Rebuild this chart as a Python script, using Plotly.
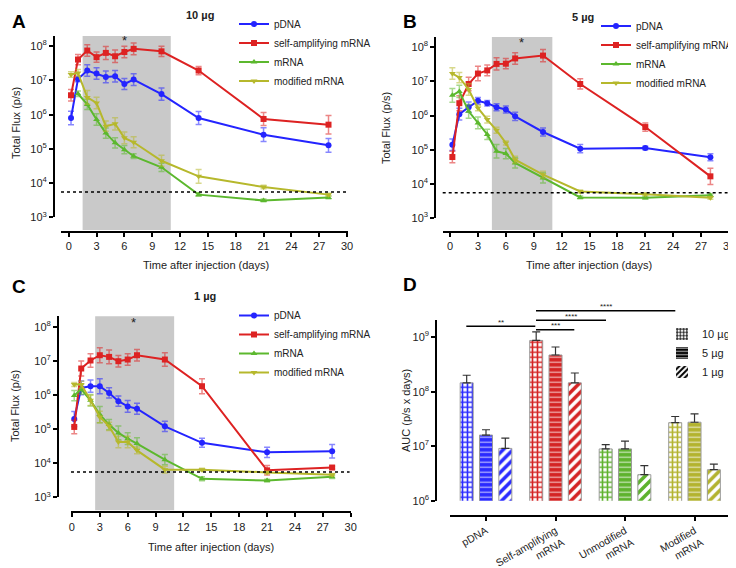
import numpy as np
import plotly.graph_objects as go

W, H = 736, 568
FONT = "Liberation Sans, Arial, sans-serif"

# ---------------- data ----------------
days = [0.25, 1, 2, 3, 4, 5, 6, 7, 10, 14, 21, 28]
series_names = ["pDNA", "self-amplifying mRNA", "mRNA", "modified mRNA"]
x_ticks = [0, 3, 6, 9, 12, 15, 18, 21, 24, 27, 30]
y_ticks = [1e3, 1e4, 1e5, 1e6, 1e7, 1e8]
y_ticktext = ["10<sup>3</sup>", "10<sup>4</sup>", "10<sup>5</sup>", "10<sup>6</sup>",
              "10<sup>7</sup>", "10<sup>8</sup>"]
detection_limit = 5.5e3

# Panel A (10 µg) values and SEM (in decades)
a_pdna = [8.0e5, 1.1e7, 1.95e7, 1.6e7, 1.27e7, 1.33e7, 7.9e6, 1.06e7, 4.0e6, 8.0e5, 2.6e5, 1.27e5]
a_pdna_err = [0.2, 0.08, 0.17, 0.17, 0.17, 0.17, 0.16, 0.17, 0.18, 0.19, 0.2, 0.2]
a_sa = [3.7e6, 4.1e7, 7.5e7, 4.8e7, 6.4e7, 5.1e7, 6.8e7, 8.4e7, 7.1e7, 1.95e7, 7.5e5, 5.1e5]
a_sa_err = [0.17, 0.15, 0.17, 0.15, 0.19, 0.18, 0.17, 0.17, 0.15, 0.12, 0.19, 0.27]
a_mrna = [None, 4.1e6, 2.0e6, 7.2e5, 2.9e5, 1.5e5, 9.5e4, 6.1e4, 2.9e4, 4.6e3, 3.1e3, 3.8e3]
a_mrna_err = [0, 0.08, 0.15, 0.17, 0.15, 0.15, 0.12, 0.07, 0.12, 0.05, 0.04, 0.04]
a_mod = [1.49e7, 1.66e7, 3.2e6, 2.2e6, 4.6e5, 5.4e5, 2.1e5, 1.56e5, 4.5e4, 1.58e4, 7.7e3, 4.6e3]
a_mod_err = [0.08, 0.1, 0.2, 0.17, 0.15, 0.18, 0.17, 0.16, 0.16, 0.2, 0.05, 0.04]

# Panel B (5 µg)
b_pdna = [1.4e5, 1.1e6, 1.75e6, 2.7e6, 2.3e6, 1.75e6, 1.5e6, 9.5e5, 3.3e5, 1.07e5, 1.12e5, 6.0e4]
b_pdna_err = [0.17, 0.17, 0.15, 0.1, 0.08, 0.1, 0.1, 0.12, 0.12, 0.12, 0.05, 0.1]
b_sa = [6.1e4, 2.3e6, 8.4e6, 1.7e7, 2.1e7, 3.25e7, 3.3e7, 4.7e7, 5.7e7, 8.4e6, 4.6e5, 1.66e4]
b_sa_err = [0.17, 0.22, 0.2, 0.21, 0.16, 0.18, 0.15, 0.17, 0.18, 0.15, 0.12, 0.24]
b_mrna = [3.9e6, 5.1e6, 1.33e6, 6.1e5, 2.8e5, 9.0e4, 7.7e4, 4.1e4, 1.49e4, 4.0e3, 3.9e3, 4.6e3]
b_mrna_err = [0.2, 0.18, 0.2, 0.17, 0.15, 0.2, 0.15, 0.15, 0.15, 0.04, 0.04, 0.04]
b_mod = [1.7e7, 1.3e7, 5.8e6, 1.67e6, 7.6e5, 3.7e5, 1.57e5, 5.1e4, 1.86e4, 6.0e3, 5.0e3, 3.9e3]
b_mod_err = [0.17, 0.15, 0.17, 0.08, 0.1, 0.09, 0.06, 0.1, 0.1, 0.04, 0.04, 0.04]

# Panel C (1 µg)
c_pdna = [2.0e5, 1.64e6, 1.84e6, 1.84e6, 1.17e6, 6.7e5, 4.7e5, 4.0e5, 1.22e5, 4.0e4, 2.1e4, 2.25e4]
c_pdna_err = [0.22, 0.2, 0.18, 0.22, 0.15, 0.15, 0.17, 0.16, 0.15, 0.13, 0.15, 0.2]
c_sa = [1.17e5, 6.1e6, 1.05e7, 1.5e7, 1.34e7, 1.0e7, 1.12e7, 1.5e7, 1.12e7, 1.84e6, 6.2e3, 7.5e3]
c_sa_err = [0.2, 0.22, 0.2, 0.22, 0.2, 0.17, 0.17, 0.17, 0.2, 0.22, 0.14, 0.04]
c_mrna = [9.8e5, 1.5e6, 7.1e5, 2.7e5, 1.37e5, 7.8e4, 5.3e4, 3.8e4, 1.28e4, 3.5e3, 3.1e3, 4.0e3]
c_mrna_err = [0.15, 0.15, 0.17, 0.24, 0.15, 0.2, 0.17, 0.17, 0.15, 0.06, 0.04, 0.05]
c_mod = [2.06e6, 2.06e6, 7.1e5, 2.3e5, 1.22e5, 4.2e4, 4.2e4, 2.4e4, 6.5e3, 6.5e3, 5.4e3, 4.6e3]
c_mod_err = [0.06, 0.1, 0.15, 0.17, 0.12, 0.17, 0.17, 0.1, 0.1, 0.04, 0.04, 0.04]

# Panel D (AUC)
auc_categories = ["pDNA", "Self-amplifying<br>mRNA", "Unmodified<br>mRNA", "Modified<br>mRNA"]
dose_labels = ["10 µg", "5 µg", "1 µg"]
auc_10 = [1.45e8, 8.7e8, 8.9e6, 2.7e7]
auc_10_err = [5.5e7, 3.8e8, 1.8e6, 8.0e6]
auc_5 = [1.6e7, 4.7e8, 8.9e6, 2.75e7]
auc_5_err = [4.0e6, 1.9e8, 3.5e6, 1.15e7]
auc_1 = [9.1e6, 1.45e8, 3.0e6, 3.7e6]
auc_1_err = [4.9e6, 7.5e7, 1.4e6, 1.0e6]
auc_ticks = [1e6, 1e7, 1e8, 1e9]
auc_ticktext = ["10<sup>6</sup>", "10<sup>7</sup>", "10<sup>8</sup>", "10<sup>9</sup>"]

# ---------------- style ----------------
colors = ["#2424ff", "#dd2222", "#5cb82e", "#b6b82c"]
err_colors = ["rgba(36,36,255,0.55)", "rgba(221,34,34,0.55)", "rgba(92,184,46,0.55)", "rgba(182,184,44,0.55)"]
symbols = ["circle", "square", "triangle-up", "triangle-down"]
bar_colors = ["#2a2aff", "#d42323", "#5db22c", "#b3b32e"]
TXT = "#222"


def px(x):
    return x / W


def py(y):
    return 1 - y / H


def label(text, x, y, size=11, angle=0, bold=False, color=TXT):
    return dict(text=("<b>%s</b>" % text) if bold else text, xref="paper", yref="paper",
                x=px(x), y=py(y), xanchor="center", yanchor="middle", showarrow=False,
                textangle=angle, font=dict(size=size, family=FONT, color=color))


fig = go.Figure()

panels = [
    dict(k="", data=[a_pdna, a_sa, a_mrna, a_mod], errs=[a_pdna_err, a_sa_err, a_mrna_err, a_mod_err],
         leg="legend", xd=(53, 340), xr=(-0.83, 30.1), yd=(209.3, 28), yr=(3, 8.30), yx=46, xy=224,
         shade=(1.5, 11), star=6.0, stary=33, title="10 µg", tx=192, ty=7.5,
         letter="A", lx=11, ly=14, legx=226, legy=1.5, xt=(198, 257), yt=(8, 115)),
    dict(k="2", data=[b_pdna, b_sa, b_mrna, b_mod], errs=[b_pdna_err, b_sa_err, b_mrna_err, b_mod_err],
         leg="legend2", xd=(434.7, 721), xr=(-0.79, 30.0), yd=(210, 29), yr=(3, 8.30), yx=427.3, xy=224,
         shade=(4.5, 11), star=7.7, stary=34, title="5 µg", tx=575, ty=9,
         letter="B", lx=402, ly=14, legx=588, legy=3.5, xt=(581, 257), yt=(378, 120)),
    dict(k="3", data=[c_pdna, c_sa, c_mrna, c_mod], errs=[c_pdna_err, c_sa_err, c_mrna_err, c_mod_err],
         leg="legend3", xd=(63, 343), xr=(-0.1, 30.03), yd=(489.3, 308.3), yr=(3, 8.32), yx=50, xy=504.3,
         shade=(2.5, 11), star=6.6, stary=314.5, title="1 µg", tx=197, ty=288,
         letter="C", lx=11, ly=278, legx=226, legy=293, xt=(203, 539), yt=(7, 398)),
]

shapes = []
annotations = []
layout_axes = {}

for p in panels:
    k = p["k"]
    for i in range(4):
        vals = p["data"][i]
        errs = p["errs"][i]
        plus = [None if v is None else v * (10 ** e - 1) for v, e in zip(vals, errs)]
        minus = [None if v is None else v * (1 - 10 ** (-e)) for v, e in zip(vals, errs)]
        fig.add_trace(go.Scatter(
            x=days, y=vals, mode="lines+markers", name=series_names[i],
            line=dict(color=colors[i], width=2),
            marker=dict(symbol=symbols[i], size=6, color=colors[i]),
            error_y=dict(type="data", symmetric=False, array=plus, arrayminus=minus,
                         color=err_colors[i], thickness=1.5, width=3),
            xaxis="x" + k, yaxis="y" + k, legend=p["leg"], cliponaxis=False,
        ))
    xa = dict(domain=[px(p["xd"][0]), px(p["xd"][1])], range=list(p["xr"]), anchor="free",
              position=py(p["xy"]), showline=True, linewidth=2, linecolor="black",
              ticks="outside", ticklen=4, tickwidth=2, tickcolor="black",
              tickvals=x_ticks, tickfont=dict(size=11, color=TXT, family=FONT),
              showgrid=False, zeroline=False, automargin=False)
    ya = dict(domain=[py(p["yd"][0]), py(p["yd"][1])], type="log", range=list(p["yr"]),
              anchor="free", position=px(p["yx"]), showline=True, linewidth=2, linecolor="black",
              ticks="outside", ticklen=4, tickwidth=2, tickcolor="black",
              tickvals=y_ticks, ticktext=y_ticktext, tickfont=dict(size=11, color=TXT, family=FONT),
              showgrid=False, zeroline=False, automargin=False)
    layout_axes["xaxis" + k] = xa
    layout_axes["yaxis" + k] = ya
    shapes.append(dict(type="rect", xref="x" + k, yref="paper", x0=p["shade"][0], x1=p["shade"][1],
                       y0=py(p["xy"] - 2), y1=py(p["yd"][1]), fillcolor="#c9c9c9",
                       line=dict(width=0), layer="below"))
    r0, r1 = p["yr"]
    yl = (np.log10(detection_limit) - r0) / (r1 - r0)
    shapes.append(dict(type="line", xref="x" + k + " domain", yref="y" + k + " domain",
                       x0=0, x1=0.995, y0=yl, y1=yl, line=dict(color="black", width=1.5, dash="dot")))
    annotations.append(dict(text="*", xref="x" + k, yref="paper", x=p["star"], y=py(p["stary"]),
                            xanchor="center", yanchor="middle", showarrow=False,
                            font=dict(size=13, family=FONT, color=TXT)))
    annotations.append(label(p["title"], p["tx"], p["ty"], size=11, bold=True))
    annotations.append(label(p["letter"], p["lx"], p["ly"], size=19, bold=True, color="black"))
    annotations.append(label("Time after injection (days)", p["xt"][0], p["xt"][1]))
    annotations.append(label("Total Flux (p/s)", p["yt"][0], p["yt"][1], angle=-90))
    layout_axes[p["leg"]] = dict(x=px(p["legx"]), y=py(p["legy"]), xanchor="left", yanchor="top",
                                 bgcolor="rgba(0,0,0,0)", font=dict(size=10, family=FONT, color=TXT),
                                 itemwidth=30)

# ---------------- panel D ----------------
bar_w = 0.187
offsets = [-0.3715, -0.0935, 0.1845]
auc_vals = [auc_10, auc_5, auc_1]
auc_errs = [auc_10_err, auc_5_err, auc_1_err]
for d in range(3):
    for c in range(4):
        col = bar_colors[c]
        if d == 0:
            pat = dict(shape="+", fgcolor=col, bgcolor="white", size=5, solidity=0.55, fillmode="replace")
        elif d == 1:
            pat = dict(shape="-", fgcolor="rgba(255,255,255,0.65)", bgcolor=col, size=5, solidity=0.25,
                       fillmode="replace")
        else:
            pat = dict(shape="/", fgcolor="white", bgcolor=col, size=7, solidity=0.5, fillmode="replace")
        fig.add_trace(go.Bar(
            x=[auc_categories[c]], y=[auc_vals[d][c]], width=bar_w, offset=offsets[d],
            marker=dict(color=col, pattern=pat, line=dict(color="#9a9a9a", width=1)),
            error_y=dict(type="data", symmetric=False, array=[auc_errs[d][c]], arrayminus=[0],
                         color="#333", thickness=1.2, width=4),
            xaxis="x4", yaxis="y4", showlegend=False, legend="legend4",
        ))
leg_pats = [dict(shape="+", fgcolor="black", bgcolor="white", size=4, solidity=0.5, fillmode="replace"),
            dict(shape="-", fgcolor="white", bgcolor="black", size=4, solidity=0.25, fillmode="replace"),
            dict(shape="/", fgcolor="white", bgcolor="black", size=5, solidity=0.5, fillmode="replace")]
for d in range(3):
    fig.add_trace(go.Bar(x=[auc_categories[0]], y=[None], name=dose_labels[d],
                         marker=dict(color="black", pattern=leg_pats[d], line=dict(width=0)),
                         xaxis="x4", yaxis="y4", legend="legend4", showlegend=True))

layout_axes["xaxis4"] = dict(domain=[px(442), px(721)], type="category", range=[-0.518, 3.496],
                             anchor="free", position=py(507.7), showline=True, linewidth=2,
                             linecolor="black", ticks="outside", ticklen=4, tickwidth=2, tickcolor="black",
                             tickangle=-30, tickfont=dict(size=10.5, color=TXT, family=FONT),
                             categoryorder="array", categoryarray=auc_categories,
                             showgrid=False, zeroline=False, automargin=False)
layout_axes["yaxis4"] = dict(domain=[py(492.7), py(311.7)], type="log", range=[6, 9.32], anchor="free",
                             position=px(428.3), showline=True, linewidth=2, linecolor="black",
                             ticks="outside", ticklen=4, tickwidth=2, tickcolor="black",
                             tickvals=auc_ticks, ticktext=auc_ticktext,
                             tickfont=dict(size=11, color=TXT, family=FONT),
                             showgrid=False, zeroline=False, automargin=False)
layout_axes["legend4"] = dict(x=px(654), y=py(311.5), xanchor="left", yanchor="top",
                              bgcolor="rgba(0,0,0,0)", font=dict(size=11, family=FONT, color=TXT),
                              itemwidth=30, tracegroupgap=0)

annotations.append(label("D", 402, 276, size=19, bold=True, color="black"))
annotations.append(label("AUC (p/s x days)", 398, 403, angle=-90))

# significance brackets
sig = [(458.3, 527.3, 318.3, "**"), (528, 566.3, 321.7, "***"), (528, 598, 312.3, "****"),
       (528, 667.3, 302.7, "****")]
for x0, x1, y, t in sig:
    shapes.append(dict(type="line", xref="paper", yref="paper", x0=px(x0), x1=px(x1), y0=py(y), y1=py(y),
                       line=dict(color="black", width=1.5)))
    annotations.append(label(t, (x0 + x1) / 2, y - 4, size=8))

fig.update_layout(
    width=W, height=H, margin=dict(l=0, r=0, t=0, b=0, autoexpand=False),
    paper_bgcolor="white", plot_bgcolor="rgba(0,0,0,0)",
    barmode="overlay", shapes=shapes, annotations=annotations,
    font=dict(family=FONT, color=TXT),
    **layout_axes,
)

fig.write_html("out.html")
